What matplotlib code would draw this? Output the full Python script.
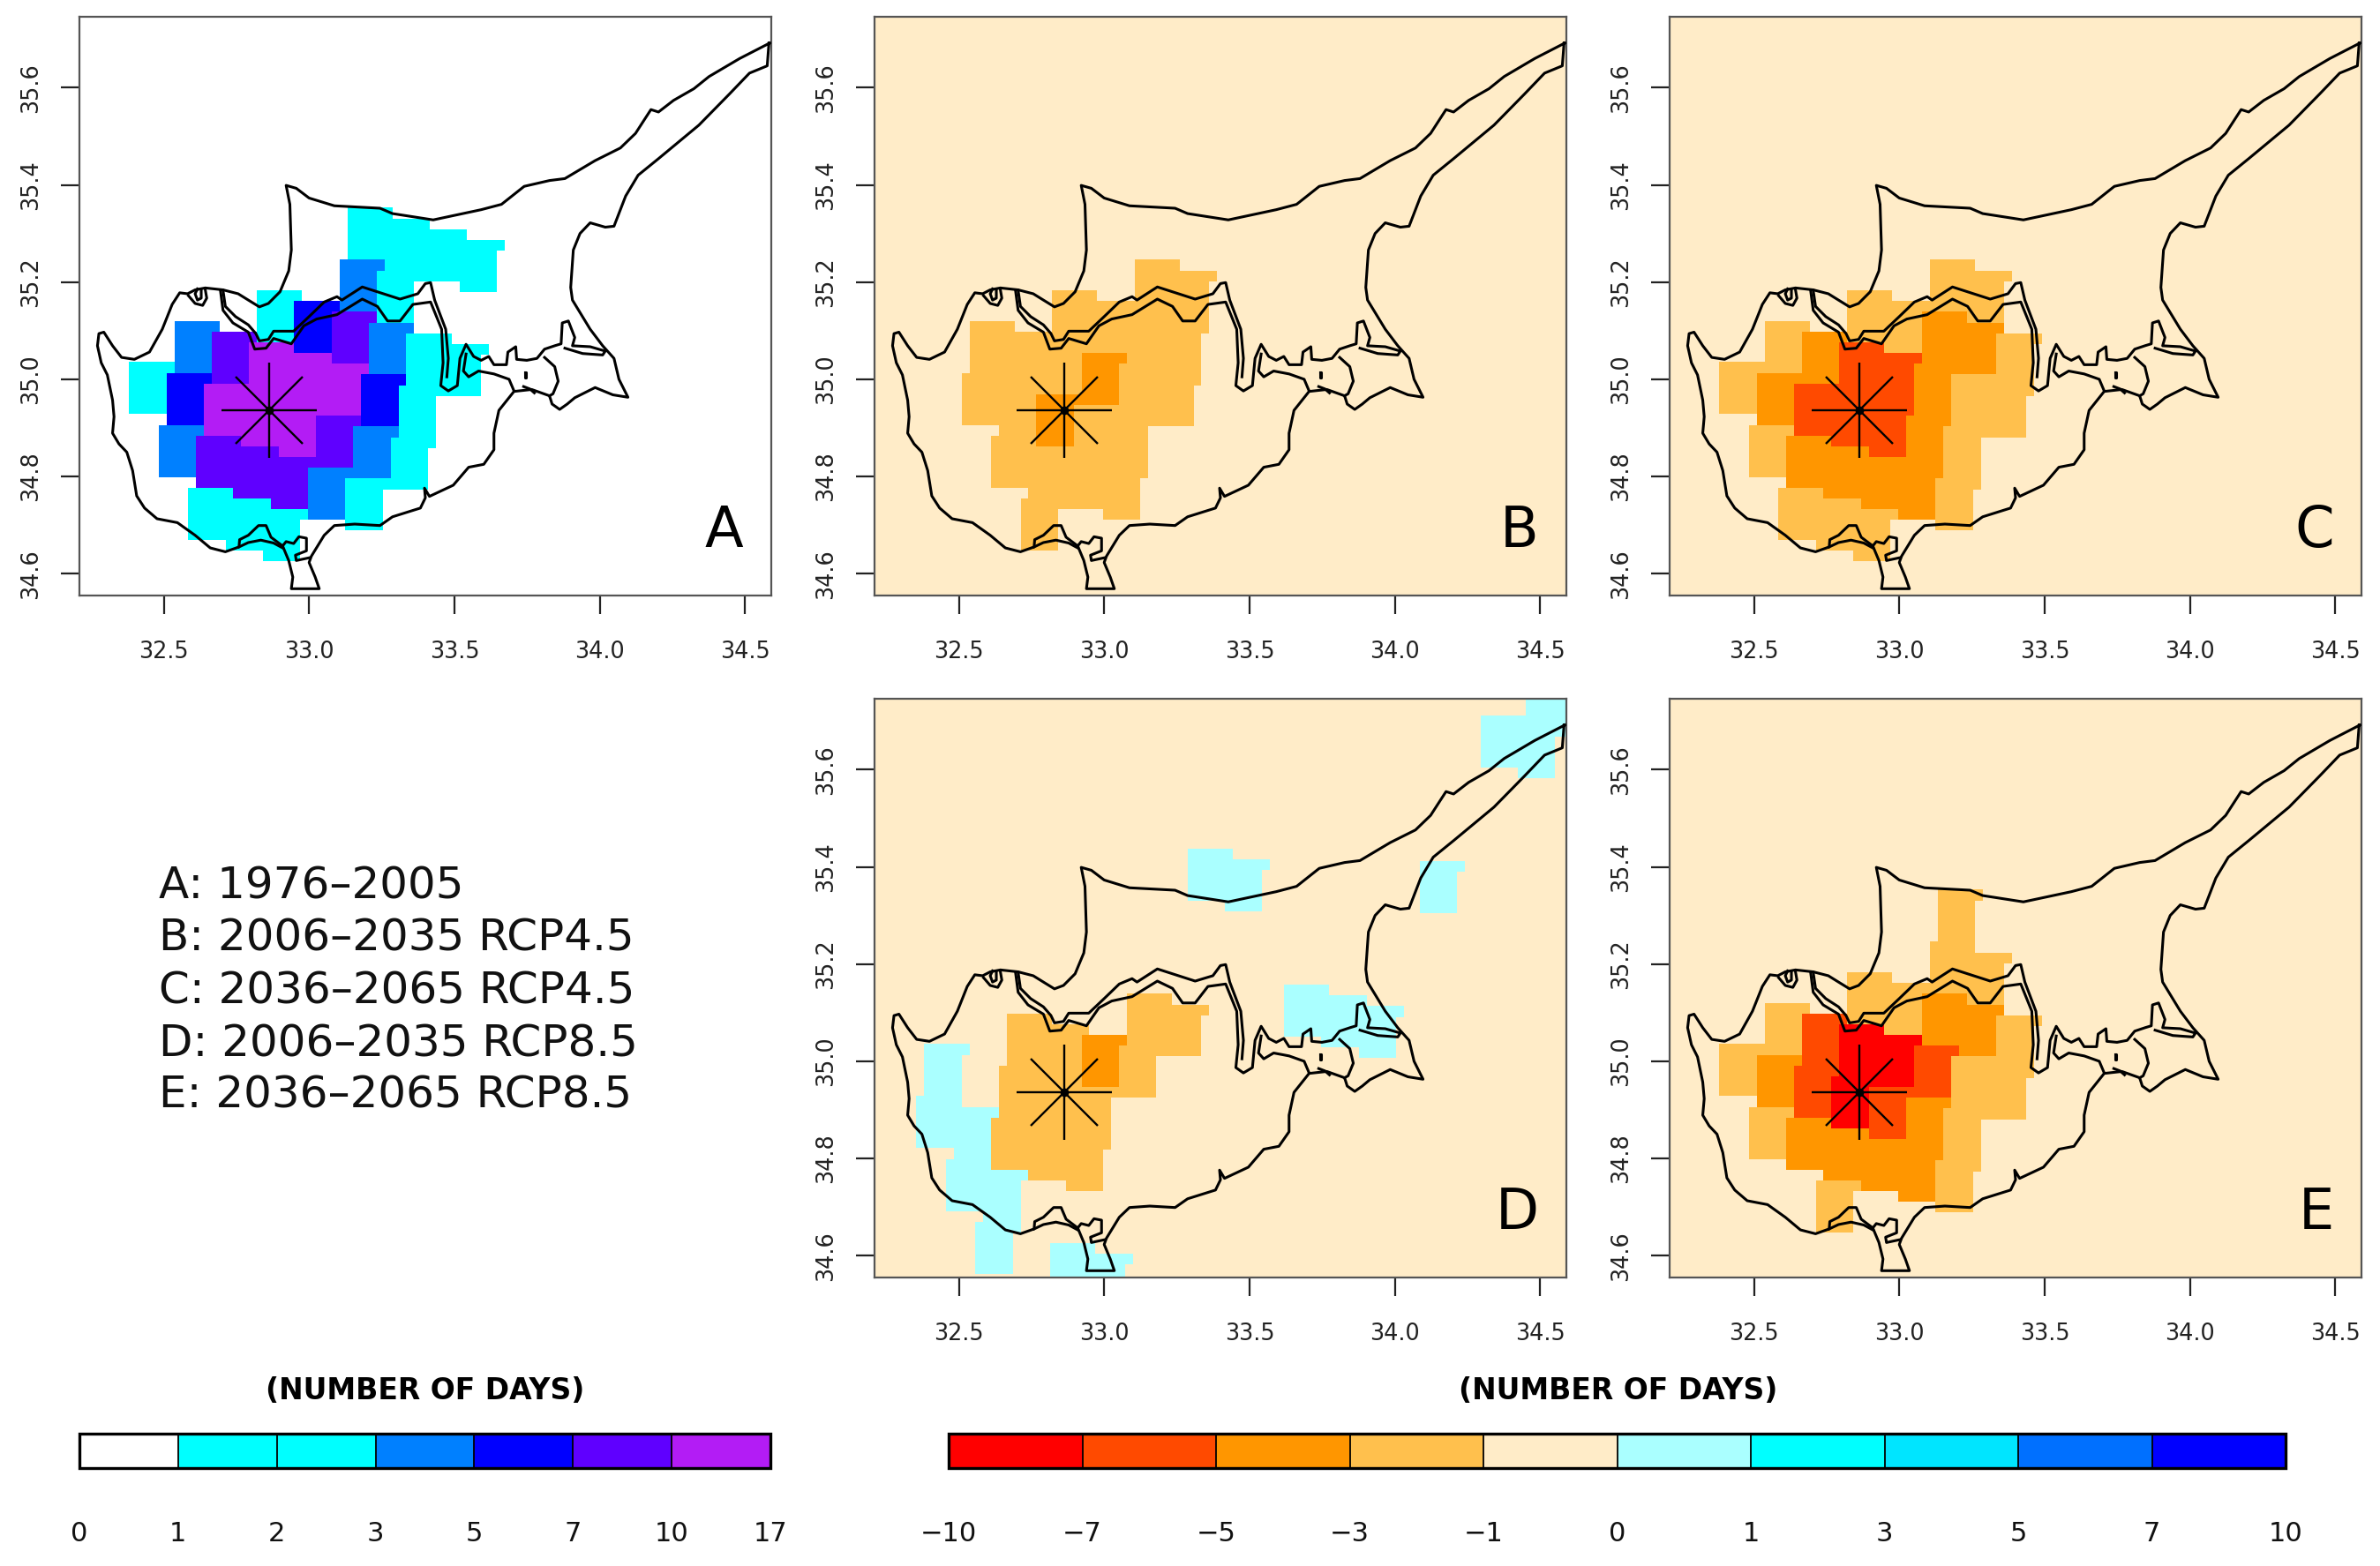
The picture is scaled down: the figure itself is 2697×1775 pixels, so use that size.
#!/usr/bin/env python3
"""Cyprus maps: days per year in 1976-2005 and their projected change, on a rotated RCM grid."""
import numpy as np
import matplotlib
matplotlib.use("Agg")
import matplotlib.pyplot as plt
from matplotlib.cm import ScalarMappable
from matplotlib.colors import BoundaryNorm, ListedColormap

# colour classes
BASE_LEVELS = [0, 1, 2, 3, 5, 7, 10, 17]
BASE_COLORS = ["#ffffff", "#00ffff", "#00ffff", "#0080ff", "#0000ff", "#5f00ff", "#b31cf5"]
DIFF_LEVELS = [-10, -7, -5, -3, -1, 0, 1, 3, 5, 7, 10]
DIFF_COLORS = ["#ff0000", "#ff4a00", "#ff9600", "#ffc04d", "#ffecc8",
               "#aaffff", "#00ffff", "#00e5ff", "#0070ff", "#0000ff"]
BASE_TICKS = ["0", "1", "2", "3", "5", "7", "10", "17"]
DIFF_TICKS = ["−10", "−7", "−5", "−3", "−1", "0", "1", "3", "5", "7", "10"]

# model cells, rows from north to south, columns from west to east
w = 0.5     # panel A background class
c = 2.5     # panel A, cyan
b = 4.0
n = 6.0
v = 8.5
m = 13.0
PANEL_A = [  # columns i = -1..7, rows j = 3..-3
    [w, w, w, w, w, c, c, c, c],
    [w, w, w, w, w, b, c, w, w],
    [w, w, w, c, n, v, b, c, c],
    [w, b, v, m, m, m, n, c, w],
    [c, n, m, m, m, v, b, c, w],
    [w, b, v, v, v, b, c, w, w],
    [w, w, c, c, c, w, w, w, w],
]

o = -0.5    # change panels background class
p = 0.5
L = -2.0
O = -4.0
R = -6.0
X = -8.5
PANEL_B = [  # columns i = 0..5, rows j = 2..-3
    [o, o, o, o, L, L],
    [o, o, L, L, L, L],
    [L, L, L, O, L, L],
    [L, L, O, L, L, o],
    [o, L, L, L, L, o],
    [o, o, L, o, o, o],
]
PANEL_C = [  # columns i = -1..6, rows j = 2..-3
    [o, o, o, o, o, L, L, o],
    [o, o, o, L, L, O, O, L],
    [o, L, O, R, R, O, L, L],
    [L, O, R, R, R, O, L, o],
    [o, L, O, O, O, O, L, o],
    [o, o, L, L, L, o, o, o],
]
PANEL_D = [  # columns i = -1..14, rows j = 9..-4
    [o, o, o, o, o, o, o, o, o, o, o, o, o, o, p, p],
    [o, o, o, o, o, o, o, o, o, o, o, o, o, p, p, o],
    [o, o, o, o, o, o, o, o, o, o, o, o, o, o, o, o],
    [o, o, o, o, o, o, o, o, o, o, o, o, o, o, o, o],
    [o, o, o, o, o, o, o, o, o, o, o, o, p, o, o, o],
    [o, o, o, o, o, o, p, p, o, o, o, o, o, o, o, o],
    [o, o, o, o, o, o, o, o, o, o, o, o, o, o, o, o],
    [o, o, o, o, o, o, o, o, o, p, p, p, o, o, o, o],
    [o, o, o, o, o, L, L, o, o, o, o, o, o, o, o, o],
    [o, o, L, L, O, L, o, o, o, o, o, o, o, o, o, o],
    [p, o, L, L, L, o, o, o, o, o, o, o, o, o, o, o],
    [p, p, L, L, L, o, o, o, o, o, o, o, o, o, o, o],
    [o, p, p, o, o, o, o, o, o, o, o, o, o, o, o, o],
    [o, o, p, o, p, p, o, o, o, o, o, o, o, o, o, o],
]
PANEL_E = [  # columns i = -1..6, rows j = 3..-3
    [o, o, o, o, o, L, o, o],
    [o, o, o, o, o, L, L, o],
    [o, o, o, L, L, O, O, L],
    [o, L, R, X, X, R, L, L],
    [L, O, R, X, R, O, L, o],
    [o, L, O, O, O, O, L, o],
    [o, o, o, L, o, o, o, o],
]

# rotated grid: north-west corner of cell (0, 0) and steps along the two grid axes
LON0, LAT0 = 32.5366, 35.1203
DLON_I, DLAT_I = 0.1285, -0.0221
DLON_J, DLAT_J = 0.0270, 0.1071
CELL_W = DLON_I + DLON_J
CELL_H = DLAT_J - DLAT_I

STATION = (32.864, 34.936)

# coastline, digitised: north coast westward, south coast eastward, back along the Karpas
COAST_LON = [34.585, 34.481, 34.376, 34.324, 34.254, 34.202, 34.176, 34.150, 34.123, 34.071,
             33.984, 33.880, 33.827, 33.740, 33.662, 33.592, 33.427, 33.287, 33.244, 33.087,
             33.000, 32.956, 32.921, 32.934, 32.939, 32.930, 32.900, 32.860, 32.829, 32.791,
             32.756, 32.704, 32.643, 32.608, 32.582, 32.555, 32.529, 32.495, 32.451, 32.399,
             32.355, 32.324, 32.294, 32.277, 32.272, 32.285, 32.306, 32.324, 32.329, 32.324,
             32.346, 32.373, 32.393, 32.407, 32.434, 32.477, 32.547, 32.608, 32.660, 32.712,
             32.759, 32.761, 32.791, 32.826, 32.852, 32.869, 32.909, 32.930, 32.944, 32.939,
             33.035, 33.021, 33.000, 33.008, 33.052, 33.087, 33.157, 33.244, 33.287, 33.383,
             33.400, 33.397, 33.414, 33.496, 33.549, 33.601, 33.636, 33.636, 33.653, 33.705,
             33.766, 33.827, 33.836, 33.862, 33.888, 33.914, 33.984, 34.045, 34.097, 34.066,
             34.049, 34.010, 33.967, 33.906, 33.900, 33.909, 33.932, 33.967, 34.019, 34.049,
             34.089, 34.132, 34.202, 34.341, 34.446, 34.515, 34.576, 34.582]
COAST_LAT = [35.692, 35.660, 35.623, 35.598, 35.574, 35.550, 35.555, 35.531, 35.506, 35.476,
             35.450, 35.413, 35.409, 35.397, 35.360, 35.349, 35.328, 35.341, 35.352, 35.357,
             35.373, 35.393, 35.399, 35.360, 35.266, 35.223, 35.180, 35.156, 35.149, 35.163,
             35.176, 35.184, 35.188, 35.184, 35.176, 35.178, 35.154, 35.103, 35.056, 35.041,
             35.045, 35.069, 35.097, 35.094, 35.069, 35.034, 35.009, 34.957, 34.923, 34.889,
             34.867, 34.850, 34.812, 34.760, 34.735, 34.713, 34.705, 34.679, 34.653, 34.645,
             34.655, 34.670, 34.679, 34.699, 34.699, 34.675, 34.657, 34.627, 34.593, 34.569,
             34.569, 34.593, 34.623, 34.636, 34.679, 34.699, 34.702, 34.699, 34.717, 34.735,
             34.756, 34.776, 34.759, 34.782, 34.819, 34.825, 34.855, 34.889, 34.936, 34.975,
             34.979, 34.966, 34.949, 34.938, 34.949, 34.962, 34.983, 34.968, 34.963, 35.000,
             35.043, 35.069, 35.103, 35.163, 35.189, 35.266, 35.300, 35.322, 35.313, 35.315,
             35.377, 35.420, 35.454, 35.523, 35.587, 35.630, 35.645, 35.692]

# inner lines: the northern and southern edge of the band, lagoons, bays
BAND_NORTH_LON = [32.704, 32.712, 32.747, 32.791, 32.817, 32.829, 32.860, 32.878, 32.947, 33.000,
                  33.052, 33.096, 33.113, 33.183, 33.235, 33.313, 33.374, 33.400, 33.418, 33.432,
                  33.470, 33.479, 33.474]
BAND_NORTH_LAT = [35.183, 35.150, 35.129, 35.112, 35.094, 35.079, 35.082, 35.099, 35.099, 35.129,
                  35.159, 35.170, 35.163, 35.190, 35.180, 35.165, 35.176, 35.197, 35.199, 35.163,
                  35.103, 35.043, 35.005]
BAND_SOUTH_LON = [32.695, 32.704, 32.738, 32.791, 32.813, 32.852, 32.878, 32.939, 32.982, 33.026,
                  33.096, 33.183, 33.235, 33.270, 33.313, 33.357, 33.418, 33.456, 33.461, 33.453,
                  33.479, 33.510, 33.519, 33.540, 33.566, 33.592, 33.618, 33.636, 33.679, 33.684,
                  33.711, 33.714, 33.749, 33.784, 33.810, 33.845, 33.867, 33.871, 33.892, 33.914,
                  33.906, 33.967, 34.019, 34.010, 33.941, 33.880]
BAND_SOUTH_LAT = [35.183, 35.142, 35.116, 35.097, 35.062, 35.064, 35.084, 35.073, 35.110, 35.124,
                  35.133, 35.165, 35.150, 35.120, 35.120, 35.154, 35.159, 35.103, 35.034, 34.987,
                  34.976, 34.987, 35.043, 35.072, 35.047, 35.039, 35.047, 35.030, 35.030, 35.056,
                  35.067, 35.041, 35.039, 35.043, 35.062, 35.069, 35.073, 35.116, 35.120, 35.086,
                  35.069, 35.067, 35.058, 35.050, 35.053, 35.064]
EAST_LON = [33.540, 33.531, 33.549, 33.583, 33.636, 33.688, 33.705]
EAST_LAT = [35.052, 35.017, 35.005, 35.017, 35.011, 35.000, 34.976]
FAMAGUSTA_LON = [33.810, 33.845, 33.857, 33.839, 33.827]
FAMAGUSTA_LAT = [35.045, 35.026, 34.996, 34.970, 34.966]
LAKE_LON = [33.743, 33.745, 33.745, 33.743, 33.743]
LAKE_LAT = [35.014, 35.014, 35.004, 35.004, 35.014]
SPIT_LON = [33.738, 33.760, 33.775]
SPIT_LAT = [34.985, 34.980, 34.972]
POCKET1_LON = [32.585, 32.608, 32.634, 32.648, 32.643]
POCKET1_LAT = [35.172, 35.156, 35.152, 35.167, 35.184]
POCKET2_LON = [32.616, 32.608, 32.616, 32.629, 32.629]
POCKET2_LAT = [35.186, 35.176, 35.163, 35.167, 35.183]
AKROTIRI_LON = [32.909, 32.921, 32.947, 32.965, 32.991, 32.991, 32.953, 32.956, 33.003]
AKROTIRI_LAT = [34.657, 34.666, 34.662, 34.676, 34.673, 34.647, 34.638, 34.627, 34.633]
SALT_LON = [32.759, 32.791, 32.834, 32.878, 32.909]
SALT_LAT = [34.655, 34.664, 34.669, 34.663, 34.653]

LINES = [(COAST_LON, COAST_LAT), (BAND_NORTH_LON, BAND_NORTH_LAT), (BAND_SOUTH_LON, BAND_SOUTH_LAT),
         (EAST_LON, EAST_LAT), (FAMAGUSTA_LON, FAMAGUSTA_LAT), (LAKE_LON, LAKE_LAT),
         (SPIT_LON, SPIT_LAT), (POCKET1_LON, POCKET1_LAT), (POCKET2_LON, POCKET2_LAT),
         (AKROTIRI_LON, AKROTIRI_LAT), (SALT_LON, SALT_LAT)]

XTICKS = [32.5, 33.0, 33.5, 34.0, 34.5]
YTICKS = [34.6, 34.8, 35.0, 35.2, 35.4, 35.6]
XLIM = (32.21, 34.59)
YLIM = (34.555, 35.746)

PERIODS = ["A: 1976–2005", "B: 2006–2035 RCP4.5", "C: 2036–2065 RCP4.5",
           "D: 2006–2035 RCP8.5", "E: 2036–2065 RCP8.5"]

W, H = 2697, 1775


def box(left, top, right, bottom):
    return [left / W, 1 - bottom / H, (right - left) / W, (bottom - top) / H]


def draw_cells(ax, grid, i_first, j_top, cmap, norm, bg):
    # cells are painted west to east, north to south, each one a lat/lon bounding box
    # of a rotated grid box, so the later ones cover the corners of the earlier ones
    vals = np.pad(np.array(grid, dtype=float), 1, constant_values=bg)
    lefts, bottoms, colors = [], [], []
    for col in range(vals.shape[1]):
        for row in range(vals.shape[0]):
            i = i_first - 1 + col
            j = j_top + 1 - row
            lefts.append(LON0 + i * DLON_I + j * DLON_J)
            bottoms.append(LAT0 + i * DLAT_I + j * DLAT_J - CELL_H)
            colors.append(cmap(norm(vals[row, col])))
    ax.bar(lefts, CELL_H, CELL_W, bottoms, align="edge", color=colors, linewidth=0)


def draw_panel(fig, rect, letter, grid, i_first, j_top, cmap, norm, bg):
    ax = fig.add_axes(box(*rect))
    ax.set_facecolor(cmap(norm(bg)))
    draw_cells(ax, grid, i_first, j_top, cmap, norm, bg)
    for lon, lat in LINES:
        ax.plot(lon, lat, color="black", lw=2.2, zorder=3, solid_joinstyle="round")
    ax.plot(*STATION, marker="+", ms=78, mew=1.7, color="black", zorder=4)
    ax.plot(*STATION, marker="x", ms=55, mew=1.7, color="black", zorder=4)
    ax.plot(*STATION, marker="o", ms=6, color="black", zorder=4)
    ax.set_xlim(*XLIM)
    ax.set_ylim(*YLIM)
    ax.set_xticks(XTICKS, [f"{t:.1f}" for t in XTICKS])
    ax.set_yticks(YTICKS, [f"{t:.1f}" for t in YTICKS], rotation=90, va="center")
    ax.tick_params(length=15, width=1.6, color="#222222", labelsize=18.4, labelcolor="#222222")
    ax.tick_params(axis="x", pad=22)
    ax.tick_params(axis="y", pad=15)
    for spine in ax.spines.values():
        spine.set_color("#555555")
        spine.set_linewidth(1.6)
    ax.text(0.96, 0.084, letter, transform=ax.transAxes, ha="right", va="baseline",
            fontsize=46, color="black", zorder=5)
    return ax


def draw_colorbar(fig, rect, levels, colors, labels, center):
    norm = BoundaryNorm(levels, len(colors))
    cmap = ListedColormap(colors)
    cax = fig.add_axes(box(*rect))
    cb = fig.colorbar(ScalarMappable(norm=norm, cmap=cmap), cax=cax, orientation="horizontal",
                      spacing="uniform", drawedges=True, ticks=levels)
    cb.set_ticklabels(labels)
    cb.ax.tick_params(length=0, labelsize=22, pad=43, labelcolor="#111111")
    cb.ax.minorticks_off()
    cb.outline.set_linewidth(2.4)
    cb.outline.set_edgecolor("black")
    cb.dividers.set_linewidth(1.3)
    cb.dividers.set_color("black")
    fig.text(center / W, 1 - 1576 / H, "(NUMBER OF DAYS)", ha="center", va="center",
             fontsize=23.8, fontweight="bold", color="black")


def main():
    plt.rcParams["font.family"] = ["DejaVu Sans"]
    fig = plt.figure(figsize=(W / 100, H / 100), dpi=100, facecolor="white")

    base_norm = BoundaryNorm(BASE_LEVELS, len(BASE_COLORS))
    base_cmap = ListedColormap(BASE_COLORS)
    diff_norm = BoundaryNorm(DIFF_LEVELS, len(DIFF_COLORS))
    diff_cmap = ListedColormap(DIFF_COLORS)

    draw_panel(fig, (90, 19, 874, 675), "A", PANEL_A, -1, 3, base_cmap, base_norm, w)
    draw_panel(fig, (991, 19, 1775, 675), "B", PANEL_B, 0, 2, diff_cmap, diff_norm, o)
    draw_panel(fig, (1892, 19, 2676, 675), "C", PANEL_C, -1, 2, diff_cmap, diff_norm, o)
    draw_panel(fig, (991, 792, 1775, 1448), "D", PANEL_D, -1, 9, diff_cmap, diff_norm, o)
    draw_panel(fig, (1892, 792, 2676, 1448), "E", PANEL_E, -1, 3, diff_cmap, diff_norm, o)

    for text, y in zip(PERIODS, [1004, 1063, 1123, 1183, 1241]):
        fig.text(180 / W, 1 - y / H, text, ha="left", va="center", fontsize=36, color="#111111")

    draw_colorbar(fig, (90, 1625, 873, 1664), BASE_LEVELS, BASE_COLORS, BASE_TICKS, 482)
    draw_colorbar(fig, (1075, 1625, 2590, 1664), DIFF_LEVELS, DIFF_COLORS, DIFF_TICKS, 1834)

    fig.savefig("out.png", dpi=100, facecolor="white")


if __name__ == "__main__":
    main()
